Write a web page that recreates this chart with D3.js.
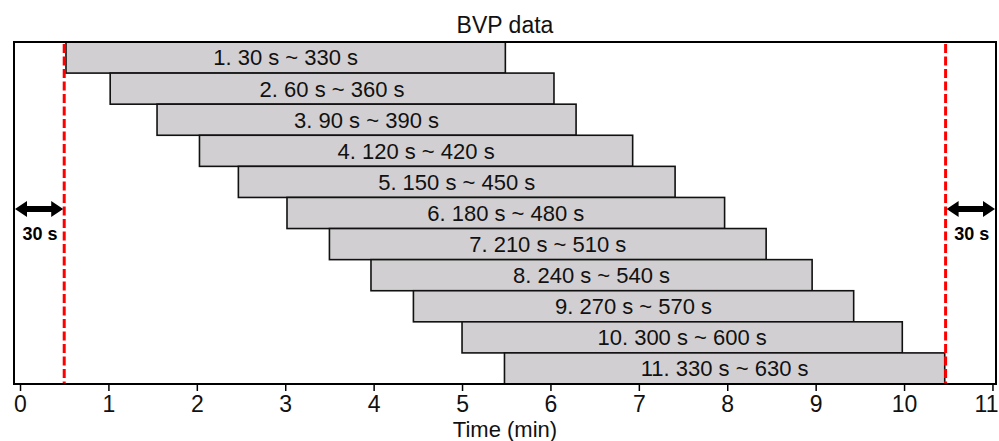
<!DOCTYPE html>
<html>
<head>
<meta charset="utf-8">
<script src="https://cdn.jsdelivr.net/npm/d3@7"></script>
<style>
  body { margin: 0; background: #fff; }
  svg { display: block; font-family: "Liberation Sans", Arial, sans-serif; }
</style>
</head>
<body>
<div id="chart"></div>
<script>
// segments (minutes)
var labels = ["1. 30 s ~ 330 s", "2. 60 s ~ 360 s", "3. 90 s ~ 390 s", "4. 120 s ~ 420 s",
  "5. 150 s ~ 450 s", "6. 180 s ~ 480 s", "7. 210 s ~ 510 s", "8. 240 s ~ 540 s",
  "9. 270 s ~ 570 s", "10. 300 s ~ 600 s", "11. 330 s ~ 630 s"];
var startMin = [0.52, 1.02, 1.55, 2.03, 2.47, 3.02, 3.50, 3.97, 4.45, 5.00, 5.48];
var endMin = [5.49, 6.04, 6.29, 6.93, 7.41, 7.97, 8.44, 8.96, 9.43, 9.98, 10.46];
var cutLines = [0.50, 10.47];
var xTicks = [0, 1, 2, 3, 4, 5, 6, 7, 8, 9, 10, 11];
var xDomain = [-0.068, 11.04];
var arrowText = "30 s";

var W = 999, H = 441;
var margin = {top: 42, right: 3, bottom: 57, left: 14},
    width = W - margin.left - margin.right,
    height = H - margin.top - margin.bottom;

var svg = d3.select("#chart").append("svg")
    .attr("width", W)
    .attr("height", H);

var g = svg.append("g")
    .attr("transform", "translate(" + margin.left + "," + margin.top + ")");

var x = d3.scaleLinear().domain(xDomain).range([0, width]);
var y = d3.scaleBand().domain(labels).range([0, height]).padding(0);

// bars
g.selectAll(".bar")
    .data(labels)
    .enter().append("rect")
    .attr("class", "bar")
    .attr("x", function(d, i) { return x(startMin[i]); })
    .attr("y", function(d) { return y(d); })
    .attr("width", function(d, i) { return x(endMin[i]) - x(startMin[i]); })
    .attr("height", y.bandwidth())
    .attr("fill", "#d1cfd1")
    .attr("stroke", "#111")
    .attr("stroke-width", 1.6);

g.selectAll(".lbl")
    .data(labels)
    .enter().append("text")
    .attr("class", "lbl")
    .attr("x", function(d, i) { return (x(startMin[i]) + x(endMin[i])) / 2; })
    .attr("y", function(d) { return y(d) + y.bandwidth() / 2; })
    .attr("dy", "0.36em")
    .attr("text-anchor", "middle")
    .attr("font-size", "22px")
    .attr("fill", "#111")
    .text(function(d) { return d; });

// red cut lines
g.selectAll(".cut")
    .data(cutLines)
    .enter().append("line")
    .attr("x1", function(d) { return x(d); })
    .attr("x2", function(d) { return x(d); })
    .attr("y1", 2)
    .attr("y2", height)
    .attr("stroke", "#ff0000")
    .attr("stroke-width", 3)
    .attr("stroke-dasharray", "9,3.5");

// double arrows between frame and cut lines
var ay = 167;
function arrowPath(x0, x1) {
    var h = 12, w = 8, t = 3;
    return "M" + x0 + "," + ay +
        "L" + (x0 + h) + "," + (ay - w) + "L" + (x0 + h) + "," + (ay - t) +
        "L" + (x1 - h) + "," + (ay - t) + "L" + (x1 - h) + "," + (ay - w) +
        "L" + x1 + "," + ay +
        "L" + (x1 - h) + "," + (ay + w) + "L" + (x1 - h) + "," + (ay + t) +
        "L" + (x0 + h) + "," + (ay + t) + "L" + (x0 + h) + "," + (ay + w) + "Z";
}
var spans = [[xDomain[0], cutLines[0]], [cutLines[1], xDomain[1]]];
g.selectAll(".arrow")
    .data(spans)
    .enter().append("path")
    .attr("d", function(d) { return arrowPath(x(d[0]) + 1, x(d[1]) - 1); })
    .attr("fill", "#000");

g.selectAll(".atext")
    .data(spans)
    .enter().append("text")
    .attr("x", function(d) { return (x(d[0]) + x(d[1])) / 2 + 1; })
    .attr("y", ay + 31)
    .attr("text-anchor", "middle")
    .attr("font-size", "18px")
    .attr("font-weight", "bold")
    .text(arrowText);

// frame
g.append("rect")
    .attr("width", width)
    .attr("height", height)
    .attr("fill", "none")
    .attr("stroke", "#000")
    .attr("stroke-width", 2);

// x axis
var xAxis = g.append("g")
    .attr("class", "axis axis--x")
    .attr("transform", "translate(0," + height + ")")
    .call(d3.axisBottom(x).tickValues(xTicks).tickSize(7).tickSizeOuter(0).tickPadding(5));

xAxis.select(".domain").remove();
xAxis.selectAll(".tick line").attr("stroke", "#000").attr("stroke-width", 1.5);
xAxis.selectAll(".tick text")
    .attr("font-size", "23px")
    .attr("font-family", "Liberation Sans, Arial, sans-serif")
    .attr("fill", "#111");

// last label sits against the window edge
var lastTick = xAxis.selectAll(".tick text").filter(function(d) { return d === xTicks[xTicks.length - 1]; });
lastTick.attr("text-anchor", "end")
    .attr("x", W - 1 - (margin.left + x(xTicks[xTicks.length - 1])));

g.append("text")
    .attr("x", width / 2)
    .attr("y", height + 53)
    .attr("text-anchor", "middle")
    .attr("font-size", "22px")
    .attr("fill", "#111")
    .text("Time (min)");

svg.append("text")
    .attr("x", margin.left + width / 2)
    .attr("y", 33)
    .attr("text-anchor", "middle")
    .attr("font-size", "23px")
    .attr("fill", "#111")
    .text("BVP data");
</script>
</body>
</html>
